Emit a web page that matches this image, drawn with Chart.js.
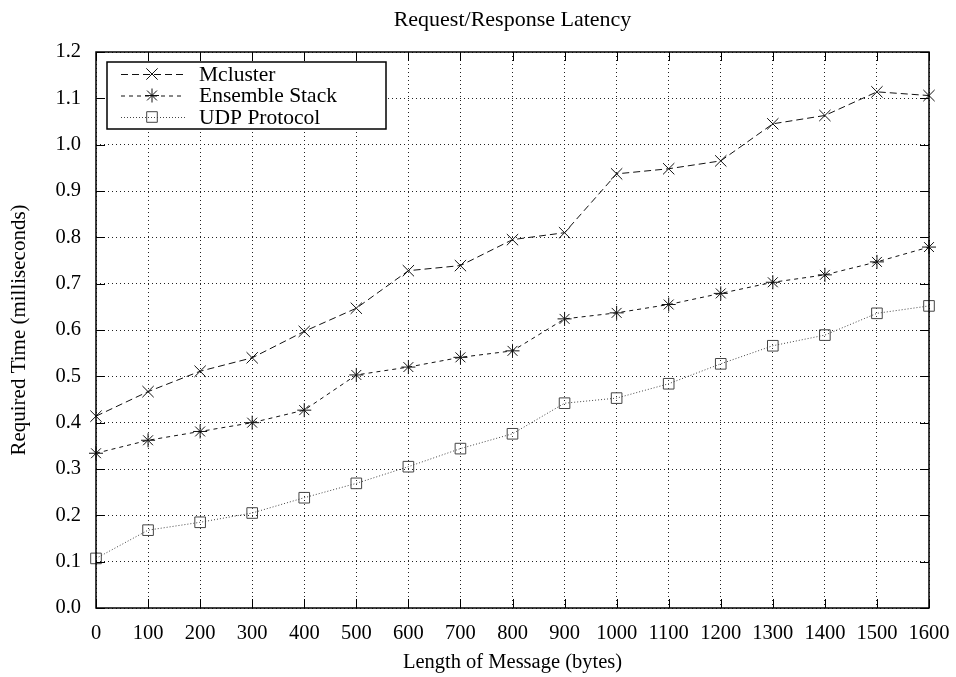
<!DOCTYPE html>
<html>
<head>
<meta charset="utf-8">
<script src="https://cdn.jsdelivr.net/npm/chart.js@4.4.1/dist/chart.umd.min.js"></script>
<style>
  html, body { margin: 0; padding: 0; background: #fff; }
  #wrap { width: 956px; height: 677px; position: relative; }
</style>
</head>
<body>
<div id="wrap"><canvas id="chart"></canvas></div>
<script>
// data
const msgLength = [0, 100, 200, 300, 400, 500, 600, 700, 800, 900, 1000, 1100, 1200, 1300, 1400, 1500, 1600];
const mcluster = [0.414, 0.467, 0.511, 0.540, 0.597, 0.647, 0.728, 0.739, 0.795, 0.810, 0.937, 0.948, 0.965, 1.045, 1.063, 1.114, 1.106];
const ensembleStack = [0.334, 0.362, 0.381, 0.400, 0.427, 0.503, 0.520, 0.541, 0.555, 0.624, 0.637, 0.655, 0.679, 0.703, 0.719, 0.747, 0.779];
const udpProtocol = [0.107, 0.168, 0.185, 0.205, 0.238, 0.269, 0.305, 0.344, 0.376, 0.442, 0.453, 0.484, 0.527, 0.566, 0.589, 0.636, 0.652];
const seriesNames = ["Mcluster", "Ensemble Stack", "UDP Protocol"];

const FONT = "'Liberation Serif', 'Times New Roman', serif";
const ctx = document.getElementById("chart").getContext("2d");

function toPoints(values) {
  return values.map((v, i) => ({ x: msgLength[i], y: v }));
}

// inward tick marks on all four sides + the frame
const frameTicks = {
  id: "frameTicks",
  afterDatasetsDraw(chart) {
    const { ctx, chartArea: a, scales } = chart;
    ctx.save();
    ctx.strokeStyle = "#000";
    ctx.lineWidth = 1;
    ctx.beginPath();
    scales.x.ticks.forEach((t) => {
      const px = Math.round(scales.x.getPixelForValue(t.value)) + 0.5;
      ctx.moveTo(px, a.bottom); ctx.lineTo(px, a.bottom - 9);
      ctx.moveTo(px, a.top); ctx.lineTo(px, a.top + 9);
    });
    scales.y.ticks.forEach((t) => {
      const py = Math.round(scales.y.getPixelForValue(t.value)) + 0.5;
      ctx.moveTo(a.left, py); ctx.lineTo(a.left + 9, py);
      ctx.moveTo(a.right, py); ctx.lineTo(a.right - 9, py);
    });
    ctx.stroke();
    ctx.lineWidth = 1.5;
    ctx.strokeRect(a.left, a.top, a.right - a.left, a.bottom - a.top);
    ctx.restore();
  }
};

// gnuplot-like key box in the top-left corner
const keyBox = {
  id: "keyBox",
  afterDraw(chart) {
    const { ctx, chartArea: a } = chart;
    const bx = a.left + 11, by = a.top + 10, bw = 279, bh = 67;
    ctx.save();
    ctx.fillStyle = "#fff";
    ctx.fillRect(bx, by, bw, bh);
    ctx.strokeStyle = "#000";
    ctx.lineWidth = 1.5;
    ctx.strokeRect(bx, by, bw, bh);
    chart.data.datasets.forEach((ds, i) => {
      const y = by + 12 + i * 21.5;
      ctx.strokeStyle = ds.borderColor;
      ctx.lineWidth = ds.borderWidth;
      ctx.setLineDash(ds.borderDash);
      ctx.beginPath();
      ctx.moveTo(bx + 14, y + 0.5);
      ctx.lineTo(bx + 78, y + 0.5);
      ctx.stroke();
      ctx.setLineDash([]);
      ctx.strokeStyle = ds.pointBorderColor;
      ctx.fillStyle = "rgba(0,0,0,0)";
      Chart.helpers.drawPoint(ctx, {
        pointStyle: ds.pointStyle,
        radius: ds.pointRadius,
        rotation: 0,
        borderWidth: 1
      }, bx + 45, y);
      ctx.fillStyle = "#000";
      ctx.font = "21.5px " + FONT;
      ctx.textBaseline = "middle";
      ctx.textAlign = "left";
      ctx.fillText(ds.label, bx + 92, y + 1);
    });
    ctx.restore();
  }
};

// title text drawn on top
const topTitle = {
  id: "topTitle",
  afterDraw(chart) {
    const { ctx, chartArea: a } = chart;
    ctx.save();
    ctx.fillStyle = "#000";
    ctx.font = "22px " + FONT;
    ctx.textAlign = "center";
    ctx.textBaseline = "middle";
    ctx.fillText("Request/Response Latency", (a.left + a.right) / 2, 20);
    ctx.restore();
  }
};

new Chart(ctx, {
  type: "line",
  data: {
    datasets: [
      {
        label: seriesNames[0],
        data: toPoints(mcluster),
        borderColor: "#111",
        borderWidth: 1,
        borderDash: [7, 4],
        pointStyle: "crossRot",
        pointRadius: 8,
        pointBorderColor: "#111",
        pointBorderWidth: 1,
        clip: false
      },
      {
        label: seriesNames[1],
        data: toPoints(ensembleStack),
        borderColor: "#111",
        borderWidth: 1,
        borderDash: [4, 4],
        pointStyle: "star",
        pointRadius: 7,
        pointBorderColor: "#111",
        pointBorderWidth: 1,
        clip: false
      },
      {
        label: seriesNames[2],
        data: toPoints(udpProtocol),
        borderColor: "#444",
        borderWidth: 1,
        borderDash: [1, 2],
        pointStyle: "rect",
        pointRadius: 7.5,
        pointBackgroundColor: "rgba(0,0,0,0)",
        pointBorderColor: "#444",
        pointBorderWidth: 1,
        clip: false
      }
    ]
  },
  options: {
    responsive: true,
    maintainAspectRatio: false,
    animation: false,
    layout: { padding: { top: 52, right: 27, left: 0, bottom: 0 } },
    plugins: {
      legend: { display: false },
      title: { display: false },
      tooltip: { enabled: false }
    },
    elements: { line: { tension: 0, fill: false } },
    scales: {
      x: {
        type: "linear",
        min: 0,
        max: 1600,
        afterFit(scale) {
          scale.height = 69;
          scale.paddingLeft = 0;
          scale.paddingRight = 0;
        },
        ticks: {
          stepSize: 100,
          padding: 13,
          color: "#000",
          font: { family: FONT, size: 20.5 },
          maxRotation: 0,
          autoSkip: false,
          callback: (v) => String(v)
        },
        grid: { color: "#222", lineWidth: 1, drawTicks: false },
        border: { display: false, dash: [1, 3] },
        title: {
          display: true,
          text: "Length of Message (bytes)",
          color: "#000",
          font: { family: FONT, size: 20.5 },
          padding: { top: 0, bottom: 2 }
        }
      },
      y: {
        type: "linear",
        min: 0,
        max: 1.2,
        afterFit(scale) {
          scale.width = 96;
          scale.paddingTop = 0;
          scale.paddingBottom = 0;
        },
        ticks: {
          stepSize: 0.1,
          padding: 15,
          color: "#000",
          font: { family: FONT, size: 20.5 },
          callback: (v) => Number(v).toFixed(1)
        },
        grid: { color: "#222", lineWidth: 1, drawTicks: false },
        border: { display: false, dash: [1, 3] },
        title: {
          display: true,
          text: "Required Time (milliseconds)",
          color: "#000",
          font: { family: FONT, size: 21 },
          padding: { top: 7, bottom: 0 }
        }
      }
    }
  },
  plugins: [frameTicks, keyBox, topTitle]
});
</script>
</body>
</html>
